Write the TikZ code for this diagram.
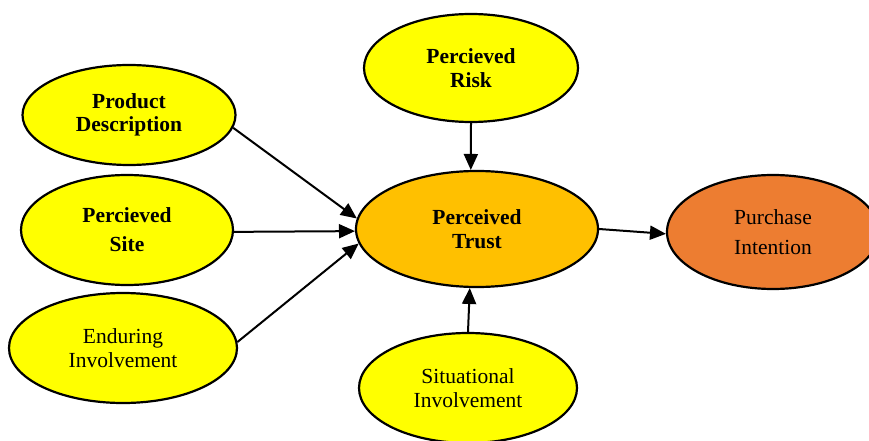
\documentclass[tikz,border=0pt]{standalone}
\usepackage{fontspec}
\setmainfont{Liberation Serif}
\usetikzlibrary{shapes.geometric,arrows.meta}
\definecolor{cyel}{HTML}{FFFF00}
\definecolor{ctrust}{HTML}{FFC000}
\definecolor{cpur}{HTML}{ED7D31}
\begin{document}
\begin{tikzpicture}[x=1pt,y=-1pt,
  oval/.style={ellipse,draw=black,line width=2.2pt,fill=cyel,align=center,inner sep=0pt,
    font=\fontsize{21.5}{23.5}\selectfont},
  boldoval/.style={oval,font=\fontsize{21.5}{23.5}\selectfont\bfseries},
  link/.style={line width=2pt,-{Triangle[length=16pt,width=14pt]}}]
\useasboundingbox (0,0) rectangle (869,441);
\node[boldoval,minimum width=213,minimum height=100] (pd) at (129,115) {Product\\Description};
\node[boldoval,minimum width=212,minimum height=110] (ps) at (127,230) {Percieved\\[5.5pt]Site};
\node[oval,minimum width=228,minimum height=110] (ei) at (123,348) {Enduring\\Involvement};
\node[boldoval,minimum width=214,minimum height=108] (pr) at (471,68) {Percieved\\Risk};
\node[boldoval,fill=ctrust,minimum width=242,minimum height=116,font=\fontsize{21.5}{24.5}\selectfont\bfseries] (pt) at (477,229) {Perceived\\Trust};
\node[oval,fill=cpur,minimum width=212,minimum height=114] (pi) at (773,232) {Purchase\\[6pt]Intention};
\node[oval,minimum width=218,minimum height=110] (si) at (468,388) {Situational\\Involvement};
\draw[link] (pd.-7) -- (pt.175);
\draw[link] (ps.-1) -- (pt.181);
\draw[link] (ei.3) -- (pt.187);
\draw[link] (pr.south) -- (pt.96);
\draw[link] (si.north) -- (pt.-97);
\draw[link] (pt.east) -- (pi.181);
\end{tikzpicture}
\end{document}
